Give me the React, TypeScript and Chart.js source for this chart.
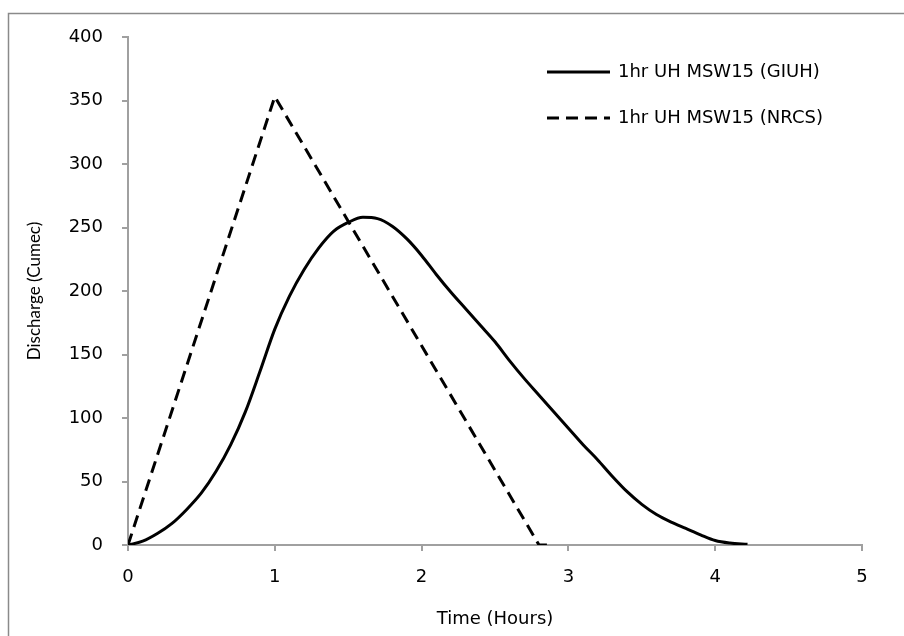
import React, { useEffect, useRef } from "react";
import { Chart, registerables } from "chart.js";

Chart.register(...registerables);

// GIUH unit hydrograph (solid)
const giuhTime = [0, 0.1, 0.2, 0.3, 0.4, 0.5, 0.6, 0.7, 0.8, 0.9, 1.0, 1.1, 1.2, 1.3, 1.4, 1.5, 1.6, 1.7, 1.8, 1.9, 2.0, 2.1, 2.2, 2.3, 2.4, 2.5, 2.6, 2.7, 2.8, 2.9, 3.0, 3.1, 3.2, 3.3, 3.4, 3.5, 3.6, 3.7, 3.8, 3.9, 4.0, 4.1, 4.22];
const giuhFlow = [0, 3, 9, 17, 28, 41, 58, 79, 105, 137, 170, 196, 217, 234, 247, 254, 258, 257, 251, 241, 228, 213, 199, 186, 173, 160, 145, 131, 118, 105, 92, 79, 67, 54, 42, 32, 24, 18, 13, 8, 3.5, 1.5, 0.5];

// NRCS triangular unit hydrograph (dashed)
const nrcsTime = [0, 1.0, 2.8, 2.87];
const nrcsFlow = [0, 353, 0, 0];

const seriesNames = ["1hr UH MSW15 (GIUH)", "1hr UH MSW15 (NRCS)"];
const xTitle = "Time (Hours)";
const yTitle = "Discharge (Cumec)";

const TICK_FONT = "DejaVu Sans";
const AXIS_COLOR = "#a0a0a0";

const framePlugin = {
  id: "frame",
  beforeDraw(chart: any) {
    const ctx = chart.ctx;
    ctx.save();
    ctx.strokeStyle = "#8a8a8a";
    ctx.lineWidth = 1.5;
    ctx.beginPath();
    ctx.moveTo(8.5, 640);
    ctx.lineTo(8.5, 13.5);
    ctx.lineTo(910, 13.5);
    ctx.stroke();
    ctx.restore();
  },
};

const legendPlugin = {
  id: "customLegend",
  afterDraw(chart: any) {
    const ctx = chart.ctx;
    ctx.save();
    const rows = [
      { y: 72, dash: [] as number[] },
      { y: 118, dash: [12, 7] },
    ];
    rows.forEach((r, i) => {
      ctx.strokeStyle = "#000";
      ctx.lineWidth = 3;
      ctx.setLineDash(r.dash);
      ctx.beginPath();
      ctx.moveTo(547, r.y);
      ctx.lineTo(610, r.y);
      ctx.stroke();
      ctx.setLineDash([]);
      ctx.fillStyle = "#000";
      ctx.font = `18px "${TICK_FONT}"`;
      ctx.textBaseline = "middle";
      ctx.textAlign = "left";
      ctx.fillText(seriesNames[i], 618, r.y);
    });
    ctx.restore();
  },
};

export default function App() {
  const ref = useRef<HTMLCanvasElement | null>(null);

  useEffect(() => {
    if (!ref.current) return;
    const giuh = giuhTime.map((t, i) => ({ x: t, y: giuhFlow[i] }));
    const nrcs = nrcsTime.map((t, i) => ({ x: t, y: nrcsFlow[i] }));
    const chart = new Chart(ref.current, {
      type: "line",
      data: {
        datasets: [
          {
            label: seriesNames[0],
            data: giuh,
            borderColor: "#000",
            borderWidth: 3,
            pointRadius: 0,
            cubicInterpolationMode: "monotone",
            fill: false,
          },
          {
            label: seriesNames[1],
            data: nrcs,
            borderColor: "#000",
            borderWidth: 3,
            borderDash: [12, 7],
            borderJoinStyle: "round",
            pointRadius: 0,
            tension: 0,
            fill: false,
          },
        ],
      },
      options: {
        responsive: false,
        animation: false,
        devicePixelRatio: 1,
        layout: { padding: { left: 0, top: 37, right: 42, bottom: 0 } },
        plugins: { legend: { display: false }, tooltip: { enabled: false } },
        scales: {
          x: {
            type: "linear",
            min: 0,
            max: 5,
            ticks: { stepSize: 1, color: "#000", padding: 16, font: { family: TICK_FONT, size: 18 } },
            grid: { drawOnChartArea: false, tickLength: 6, color: AXIS_COLOR, lineWidth: 2 },
            border: { color: AXIS_COLOR, width: 2 },
            title: {
              display: true,
              text: xTitle,
              color: "#000",
              font: { family: TICK_FONT, size: 18 },
              padding: { top: 0, bottom: 6 },
            },
            afterFit(scale: any) {
              scale.height = 91;
            },
          },
          y: {
            type: "linear",
            min: 0,
            max: 400,
            ticks: { stepSize: 50, color: "#000", padding: 19, font: { family: TICK_FONT, size: 18 } },
            grid: { drawOnChartArea: false, tickLength: 6, color: AXIS_COLOR, lineWidth: 2 },
            border: { color: AXIS_COLOR, width: 2 },
            title: {
              display: true,
              text: yTitle,
              color: "#000",
              font: { family: "Lato", size: 17 },
              padding: { top: 24, bottom: 0 },
            },
            afterFit(scale: any) {
              scale.width = 128;
            },
          },
        },
      },
      plugins: [framePlugin, legendPlugin],
    } as any);
    return () => chart.destroy();
  }, []);

  return (
    <div style={{ position: "absolute", left: 0, top: 0, width: 904, height: 636, background: "#fff" }}>
      <canvas ref={ref} width={904} height={636} style={{ display: "block" }} />
    </div>
  );
}
